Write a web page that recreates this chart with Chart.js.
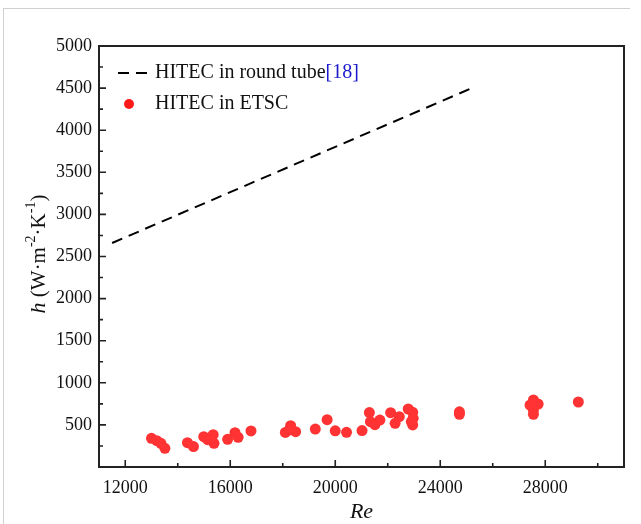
<!DOCTYPE html>
<html>
<head>
<meta charset="utf-8">
<script src="https://cdn.jsdelivr.net/npm/chart.js@4.4.1/dist/chart.umd.min.js"></script>
<style>
  body { margin: 0; background: #fff; }
  canvas { display: block; }
</style>
</head>
<body>
<canvas id="chart" width="641" height="524"></canvas>
<script>
// HITEC in ETSC, measured points
var etscRe = [13000, 13200, 13360, 13510, 14370, 14600, 14990, 15350, 15140, 15380,
              15900, 16180, 16300, 16790, 18100, 18300, 18490, 18250, 19240, 19690,
              20000, 20430, 21020, 21300, 21340, 21510, 21700, 22110, 22280, 22440,
              22780, 22950, 22970, 22950, 22900, 24730, 24730, 27550, 27420, 27730,
              27550, 27550, 29260];
var etscH  = [341, 312, 281, 222, 289, 243, 360, 384, 324, 281,
              329, 407, 353, 428, 410, 490, 419, 440, 451, 562,
              430, 412, 433, 647, 538, 502, 558, 645, 519, 597,
              689, 650, 578, 499, 540, 626, 655, 796, 736, 748,
              677, 626, 772];

// HITEC in round tube [18], correlation line
var tubeRe = [11500, 25200];
var tubeH  = [2660, 4500];

var xTicks = [12000, 16000, 20000, 24000, 28000];
var yTicks = [0, 500, 1000, 1500, 2000, 2500, 3000, 3500, 4000, 4500, 5000];

var serif = '"Liberation Serif", "Times New Roman", serif';

function pairs(xs, ys) {
    return xs.map(function(x, i) { return { x: x, y: ys[i] }; });
}

var decorPlugin = {
    id: 'decor',
    afterDraw: function(chart) {
        var ctx = chart.ctx;
        var a = chart.chartArea;
        var xs = chart.scales.x, ys = chart.scales.y;
        ctx.save();

        // light page border
        ctx.strokeStyle = '#d0d0d0';
        ctx.lineWidth = 1;
        ctx.beginPath();
        ctx.moveTo(3.5, 8); ctx.lineTo(3.5, 524);
        ctx.moveTo(3.5, 8.5); ctx.lineTo(630, 8.5);
        ctx.stroke();

        // frame
        ctx.strokeStyle = '#222';
        ctx.lineWidth = 2;
        ctx.strokeRect(a.left, a.top, a.right - a.left, a.bottom - a.top);

        // inward ticks, major + minor
        ctx.lineWidth = 1.6;
        ctx.beginPath();
        for (var v = 12000; v <= 30000; v += 2000) {
            var px = xs.getPixelForValue(v);
            var len = (v % 4000 === 0) ? 7 : 4;
            ctx.moveTo(px, a.bottom); ctx.lineTo(px, a.bottom - len);
        }
        for (var w = 250; w < 5000; w += 250) {
            var py = ys.getPixelForValue(w);
            var len2 = (w % 500 === 0) ? 7 : 4;
            ctx.moveTo(a.left, py); ctx.lineTo(a.left + len2, py);
        }
        ctx.stroke();

        // legend
        ctx.strokeStyle = '#000';
        ctx.lineWidth = 2;
        ctx.setLineDash([11, 7]);
        ctx.beginPath();
        ctx.moveTo(118, 73); ctx.lineTo(150, 73);
        ctx.stroke();
        ctx.setLineDash([]);
        ctx.fillStyle = '#ff1a1a';
        ctx.beginPath();
        ctx.arc(129, 104, 5, 0, Math.PI * 2);
        ctx.fill();

        ctx.font = '20px ' + serif;
        ctx.textBaseline = 'middle';
        ctx.textAlign = 'left';
        ctx.fillStyle = '#111';
        var t1 = 'HITEC in round tube';
        ctx.fillText(t1, 155, 73);
        ctx.fillStyle = '#1a1acc';
        ctx.fillText('[18]', 155 + ctx.measureText(t1).width, 73);
        ctx.fillStyle = '#111';
        ctx.fillText('HITEC in ETSC', 155, 104);

        // x title
        ctx.font = 'italic 22px ' + serif;
        ctx.textAlign = 'center';
        ctx.fillText('Re', (a.left + a.right) / 2, 512);

        // y title with superscripts
        var parts = [
            { t: 'h', f: 'italic 22px ' + serif, dy: 0 },
            { t: ' (W\u00b7m', f: '21px ' + serif, dy: 0 },
            { t: '-2', f: '14px ' + serif, dy: -8 },
            { t: '\u00b7K', f: '21px ' + serif, dy: 0 },
            { t: '-1', f: '14px ' + serif, dy: -8 },
            { t: ')', f: '21px ' + serif, dy: 0 }
        ];
        var total = 0;
        parts.forEach(function(p) { ctx.font = p.f; p.w = ctx.measureText(p.t).width; total += p.w; });
        ctx.translate(39, 254);
        ctx.rotate(-Math.PI / 2);
        ctx.textAlign = 'left';
        var cx = -total / 2;
        parts.forEach(function(p) {
            ctx.font = p.f;
            ctx.fillText(p.t, cx, p.dy);
            cx += p.w;
        });
        ctx.restore();
    }
};

new Chart(document.getElementById('chart').getContext('2d'), {
    type: 'scatter',
    data: {
        datasets: [{
            label: 'HITEC in round tube[18]',
            data: pairs(tubeRe, tubeH),
            showLine: true,
            borderColor: '#000',
            borderWidth: 2,
            borderDash: [11, 7],
            pointRadius: 0
        }, {
            label: 'HITEC in ETSC',
            data: pairs(etscRe, etscH),
            backgroundColor: '#ff3333',
            borderWidth: 0,
            pointRadius: 5.5
        }]
    },
    options: {
        responsive: false,
        animation: false,
        layout: { padding: { top: 46, right: 17, left: 0, bottom: 0 } },
        plugins: {
            legend: { display: false },
            tooltip: { enabled: false }
        },
        scales: {
            x: {
                type: 'linear',
                min: 11000,
                max: 31000,
                afterBuildTicks: function(s) { s.ticks = xTicks.map(function(v) { return { value: v }; }); },
                afterFit: function(s) { s.height = 57; },
                grid: { display: false, drawTicks: false },
                border: { display: false },
                ticks: {
                    color: '#111', padding: 10, maxRotation: 0, font: { family: serif, size: 18 },
                    callback: function(v) { return String(v); }
                }
            },
            y: {
                type: 'linear',
                min: 0,
                max: 5000,
                afterBuildTicks: function(s) { s.ticks = yTicks.map(function(v) { return { value: v }; }); },
                afterFit: function(s) { s.width = 99; },
                grid: { display: false, drawTicks: false },
                border: { display: false },
                ticks: {
                    color: '#111', padding: 7, font: { family: serif, size: 18 },
                    callback: function(v) { return v === 0 ? '' : String(v); }
                }
            }
        }
    },
    plugins: [decorPlugin]
});
</script>
</body>
</html>
